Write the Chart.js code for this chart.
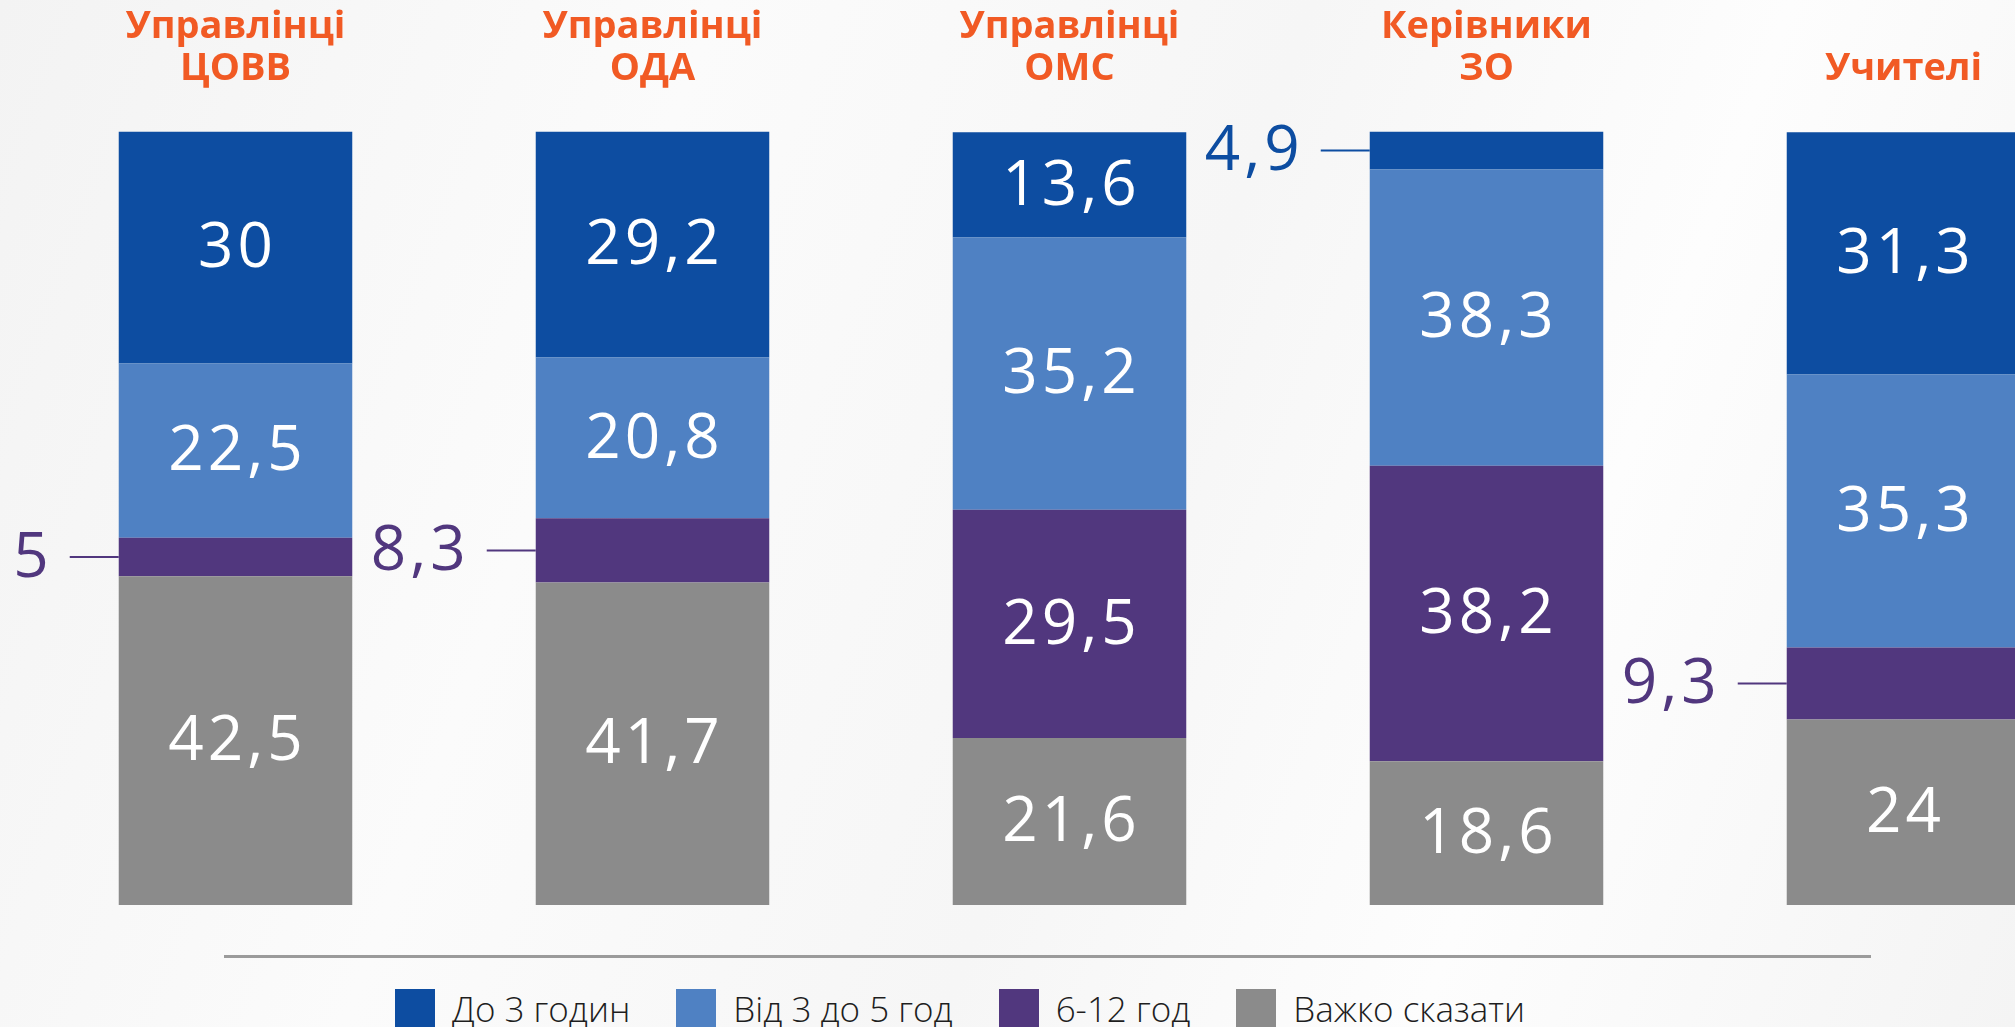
<!DOCTYPE html>
<html lang="uk">
<head>
<meta charset="utf-8">
<title>Час на навчання</title>
<script src="https://cdn.jsdelivr.net/npm/chart.js@4/dist/chart.umd.min.js"></script>
<style>
  html, body { margin: 0; padding: 0; }
  body {
    width: 2015px; height: 1027px; overflow: hidden; position: relative;
    background: linear-gradient(110deg, #f3f3f3 0%, #fbfbfb 30%, #f6f6f6 55%, #fdfdfd 75%, #f4f4f4 100%);
    font-family: "Open Sans", sans-serif;
  }
  #chart-wrap { position: absolute; left: 0; top: 0; width: 2112px; height: 905px; }
  .divider { position: absolute; left: 224px; top: 955px; width: 1647px; height: 3px; background: #9b9b9b; }
  .legend {
    position: absolute; left: 0; top: 989px; width: 1920px;
    display: flex; justify-content: center; gap: 46px;
  }
  .legend-item { display: flex; align-items: center; gap: 17px; font-size: 35px; font-weight: 300; color: #1e1e1e; line-height: 40px; }
  .legend-box { width: 40px; height: 40px; }
</style>
</head>
<body>
<div id="chart-wrap"><canvas id="chart-hours" width="2112" height="905"></canvas></div>
<div class="divider"></div>
<div class="legend" id="legend"></div>

<script>
// ---- дані ----
const groups = [['Управлінці', 'ЦОВВ'], ['Управлінці', 'ОДА'], ['Управлінці', 'ОМС'], ['Керівники', 'ЗО'], ['Учителі']];
const seriesNames = ['До 3 годин', 'Від 3 до 5 год', '6-12 год', 'Важко сказати'];
const upTo3 = [30, 29.2, 13.6, 4.9, 31.3];
const from3to5 = [22.5, 20.8, 35.2, 38.3, 35.3];
const from6to12 = [5, 8.3, 29.5, 38.2, 9.3];
const hardToSay = [42.5, 41.7, 21.6, 18.6, 24];

const colors = ['#0d4da1', '#4f81c3', '#51377e', '#8b8b8b'];
const values = [upTo3, from3to5, from6to12, hardToSay];

// нижній сегмент стеку — перший датасет, тому розвертаємо
const datasets = values.map((v, i) => ({
  label: seriesNames[i],
  data: v,
  backgroundColor: colors[i],
  borderWidth: 0,
})).reverse();

const fmt = v => String(v).replace('.', ',');

const barLabels = {
  id: 'barLabels',
  afterDatasetsDraw(chart) {
    const ctx = chart.ctx;
    ctx.save();
    ctx.font = '400 62px "Open Sans", sans-serif';
    ctx.letterSpacing = '4px';
    ctx.textBaseline = 'middle';
    chart.data.datasets.forEach((ds, di) => {
      const meta = chart.getDatasetMeta(di);
      meta.data.forEach((bar, i) => {
        const v = ds.data[i];
        const yMid = (bar.y + bar.base) / 2;
        if (v >= 10) {
          ctx.fillStyle = '#ffffff';
          ctx.textAlign = 'center';
          ctx.fillText(fmt(v), bar.x + 2, yMid + 2);
        } else {
          const left = bar.x - bar.width / 2;
          ctx.strokeStyle = ds.backgroundColor;
          ctx.lineWidth = 2;
          ctx.beginPath();
          ctx.moveTo(left - 49, yMid);
          ctx.lineTo(left, yMid);
          ctx.stroke();
          ctx.fillStyle = ds.backgroundColor;
          ctx.textAlign = 'right';
          ctx.fillText(fmt(v), left - 66, yMid + 2);
        }
      });
    });
    ctx.restore();
  }
};

new Chart(document.getElementById('chart-hours'), {
  type: 'bar',
  data: { labels: groups, datasets },
  plugins: [barLabels],
  options: {
    responsive: false,
    animation: false,
    layout: { padding: { left: 27, right: 0, top: -36, bottom: 0 } },
    datasets: { bar: { categoryPercentage: 1, barPercentage: 0.56 } },
    plugins: { legend: { display: false }, tooltip: { enabled: false } },
    scales: {
      x: {
        stacked: true,
        position: 'top',
        grid: { display: false, drawTicks: false },
        border: { display: false },
        ticks: {
          color: '#f15a24',
          padding: 42,
          font: { family: '"Open Sans", sans-serif', size: 38, weight: 'bold', lineHeight: 1.1 },
          maxRotation: 0,
          autoSkip: false,
        },
      },
      y: { stacked: true, min: 0, max: 100, display: false },
    },
  },
});

document.getElementById('legend').innerHTML = seriesNames.map((n, i) =>
  `<div class="legend-item"><div class="legend-box" style="background:${colors[i]}"></div>${n}</div>`
).join('');
</script>
</body>
</html>
